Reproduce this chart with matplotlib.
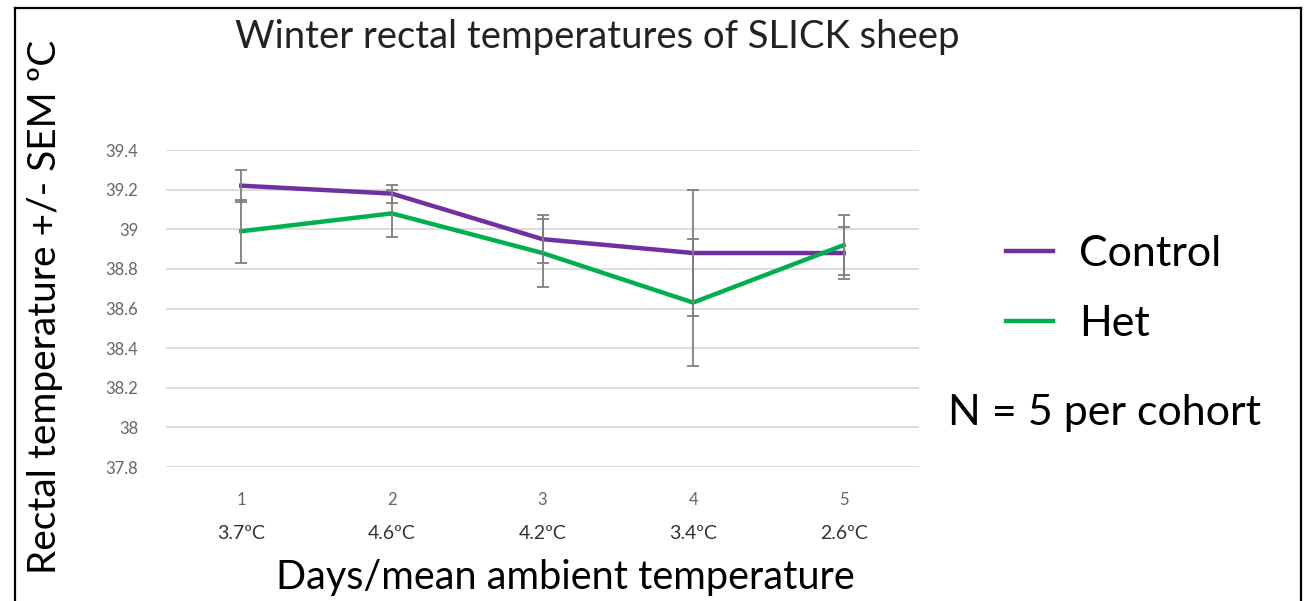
import matplotlib
matplotlib.use('Agg')
import matplotlib.pyplot as plt
from matplotlib.lines import Line2D

plt.rcParams['font.family'] = ['Lato', 'DejaVu Sans']

# data
days = [1, 2, 3, 4, 5]
ambient = ['3.7ºC', '4.6ºC', '4.2ºC', '3.4ºC', '2.6ºC']
control = [39.22, 39.18, 38.95, 38.88, 38.88]
control_sem = [0.08, 0.045, 0.12, 0.32, 0.13]
het = [38.99, 39.08, 38.88, 38.63, 38.92]
het_sem = [0.16, 0.12, 0.17, 0.32, 0.15]
yticks = [37.8, 38, 38.2, 38.4, 38.6, 38.8, 39, 39.2, 39.4]
ytick_labels = ['37.8', '38', '38.2', '38.4', '38.6', '38.8', '39', '39.2', '39.4']

purple = '#7030A0'
green = '#00B050'
grey = '#7f7f7f'

fig = plt.figure(figsize=(13.09, 6.01), dpi=100)
ax = fig.add_axes([166/1309, 1-467/601, 753/1309, 317/601])

ax.errorbar(days, control, yerr=control_sem, fmt='none', ecolor=grey,
            elinewidth=1.3, capsize=4, capthick=1.3, zorder=4)
ax.errorbar(days, het, yerr=het_sem, fmt='none', ecolor=grey,
            elinewidth=1.3, capsize=4, capthick=1.3, zorder=4)
l1, = ax.plot(days, control, color=purple, lw=3.2, zorder=3, label='Control')
l2, = ax.plot(days, het, color=green, lw=3.2, zorder=3, label='Het')

ax.set_xlim(0.5, 5.5)
ax.set_ylim(37.8, 39.4)
ax.set_yticks(yticks)
ax.set_yticklabels(ytick_labels)
ax.set_xticks(days)
ax.set_xticklabels([str(d) for d in days])
ax.tick_params(axis='both', length=0, labelsize=12, labelcolor='#666666')
ax.tick_params(axis='y', pad=20)
ax.tick_params(axis='x', pad=18)
ax.grid(axis='y', color='#d9d9d9', lw=1.3)
ax.set_axisbelow(True)
for s in ax.spines.values():
    s.set_visible(False)

for d, t in zip(days, ambient):
    ax.text(d, -0.21, t, transform=ax.get_xaxis_transform(), ha='center',
            va='center', fontsize=14, color='#333333')

fig.text(597/1309, 1-37/601, 'Winter rectal temperatures of SLICK sheep',
         ha='center', va='center', fontsize=27.5, color='#222222')
fig.text(45/1309, 1-307/601, 'Rectal temperature +/- SEM ºC', rotation=90,
         ha='center', va='center', fontsize=28, color='black')
fig.text(565/1309, 1-578/601, 'Days/mean ambient temperature',
         ha='center', va='center', fontsize=28.5, color='black')

fig.legend(handles=[l1, l2], loc='center left',
           bbox_to_anchor=(967/1309, 1-289/601), frameon=False,
           fontsize=31, handlelength=1.1, handletextpad=0.6, labelspacing=0.75)
fig.text(1105/1309, 1-413/601, 'N = 5 per cohort', ha='center', va='center',
         fontsize=31, color='black')

# frame around the slide
top = 1-8/601
for xs, ys in [((15/1309, 1301/1309), (top, top)),
               ((15/1309, 15/1309), (0, top)),
               ((1301/1309, 1301/1309), (0, top))]:
    fig.add_artist(Line2D(xs, ys, color='black', lw=1.6))

fig.savefig('out.png', dpi=100)
